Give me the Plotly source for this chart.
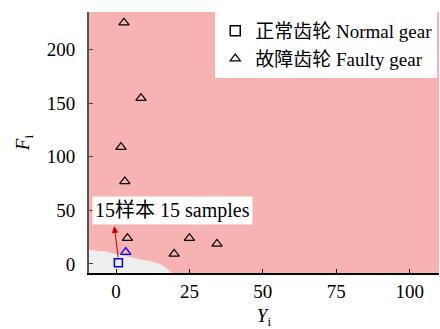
import plotly.graph_objects as go

# Data
faulty_x = [2.7, 8.5, 1.7, 3.0, 3.9, 19.8, 25.0, 34.4]
faulty_y = [225, 154.6, 109, 77, 24, 9.3, 24, 18.6]
hl_normal_x = [0.8]
hl_normal_y = [1.0]
hl_faulty_x = [3.3]
hl_faulty_y = [11.0]
# boundary of the normal (gray) decision region
region_x = [-9.5, -9.5, -3.7, 1.9, 6.5, 12.2, 15.6, 17.3, 18.8, 18.8]
region_y = [-8.6, 13.0, 11.5, 7.8, 5.3, 2.2, -0.9, -4.0, -8.6, -8.6]
x_ticks = [0, 25, 50, 75, 100]
y_ticks = [0, 50, 100, 150, 200]

FONT = "Times New Roman, Liberation Serif, serif"
FONT_CJK = "Times New Roman, Liberation Serif, Noto Sans CJK SC, serif"

fig = go.Figure()
fig.add_trace(go.Scatter(x=region_x, y=region_y, fill="toself", fillcolor="#efefef",
                         line=dict(width=0), mode="lines", showlegend=False, hoverinfo="skip"))
fig.add_trace(go.Scatter(x=[None], y=[None], mode="markers", name="正常齿轮 Normal gear",
                         marker=dict(symbol="square-open", size=10, color="black", line=dict(width=1.5))))
fig.add_trace(go.Scatter(x=faulty_x, y=faulty_y, mode="markers", name="故障齿轮 Faulty gear",
                         marker=dict(symbol="triangle-up-open", size=9, color="black", line=dict(width=1.2))))
fig.add_trace(go.Scatter(x=hl_normal_x, y=hl_normal_y, mode="markers", showlegend=False,
                         marker=dict(symbol="square-open", size=8, color="blue", line=dict(width=1.5))))
fig.add_trace(go.Scatter(x=hl_faulty_x, y=hl_faulty_y, mode="markers", showlegend=False,
                         marker=dict(symbol="triangle-up-open", size=9, color="blue", line=dict(width=1.2))))

fig.add_annotation(x=-0.6, y=35, ax=0.8, ay=4.6, xref="x", yref="y", axref="x", ayref="y",
                   text="", showarrow=True, arrowhead=2, arrowsize=1.3, arrowwidth=1, arrowcolor="#c00000")
fig.add_annotation(x=-8.3, y=50, xref="x", yref="y", xanchor="left", yanchor="middle",
                   text="15样本 15 samples", showarrow=False, bgcolor="white",
                   font=dict(family=FONT_CJK, size=20, color="black"), borderpad=2)

fig.update_layout(
    width=440, height=329,
    margin=dict(l=89, r=1, t=12, b=56, autoexpand=False),
    paper_bgcolor="white", plot_bgcolor="#f7b2b2",
    font=dict(family=FONT_CJK, size=19, color="black"),
    legend=dict(x=0.995, y=1.0, xanchor="right", yanchor="top", bgcolor="white",
                font=dict(family=FONT_CJK, size=19), itemwidth=30, tracegroupgap=0,
                borderwidth=0),
    xaxis=dict(range=[-9.2, 110], tickvals=x_ticks, ticks="inside", ticklen=4, tickcolor="black",
               tickfont=dict(family=FONT, size=19, color="black"),
               showgrid=False, zeroline=False, showline=True, linecolor="black", linewidth=1.5,
               title=dict(text="<i>Y</i><sub>i</sub>", standoff=8, font=dict(family=FONT, size=19))),
    yaxis=dict(range=[-8.5, 235], tickvals=y_ticks, ticks="inside", ticklen=4, tickcolor="#444",
               tickfont=dict(family=FONT, size=19, color="black"), ticklabelstandoff=8,
               showgrid=False, zeroline=False, showline=True, linecolor="#555", linewidth=2,
               title=dict(text="<i>F</i><sub>i</sub>", standoff=12, font=dict(family=FONT, size=19))),
)

fig.write_html("out.html")
